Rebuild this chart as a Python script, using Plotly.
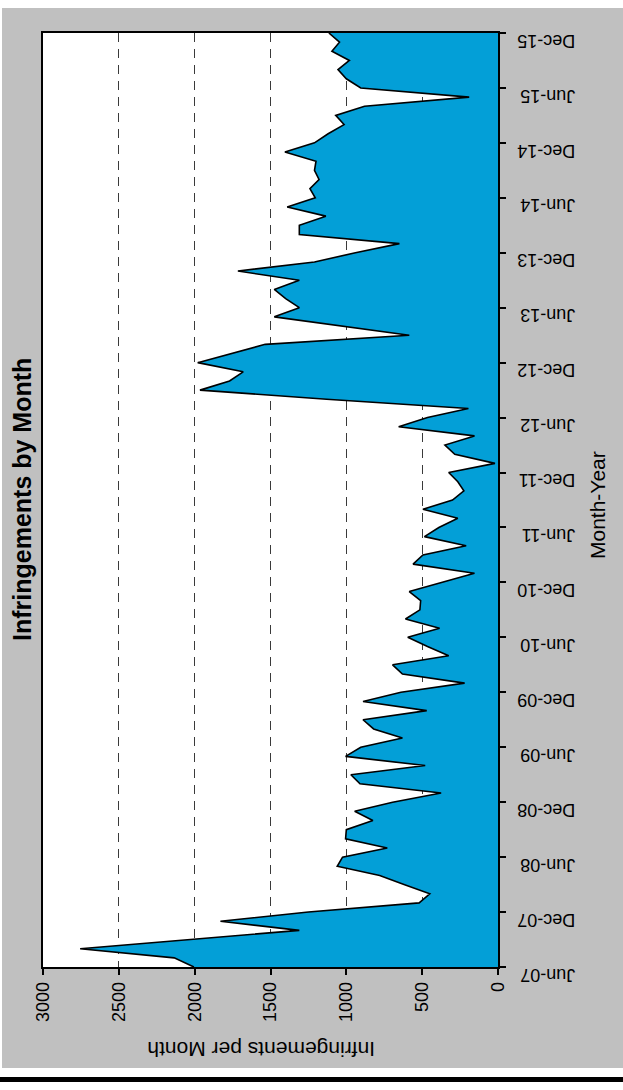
import plotly.graph_objects as go
import pandas as pd

# Categories: monthly from Jun-07 to Dec-15
months = [d.strftime("%b-%y") for d in pd.date_range("2007-06-01", "2015-12-01", freq="MS")]

# Infringements per month
infringements = [
    2005, 2135, 2755, 2050, 1310, 1830, 1250,            # Jun-07 .. Dec-07
    520, 450, 620, 780, 1060, 1025, 730, 1005, 1000, 825, 945, 695,   # 2008
    375, 910, 970, 480, 1005, 905, 630, 820, 890, 470, 890, 640,      # 2009
    220, 630, 695, 325, 465, 595, 385, 610, 515, 510, 585, 375,       # 2010
    155, 560, 495, 210, 485, 390, 265, 495, 300, 225, 265, 325,       # 2011
    20, 285, 350, 155, 655, 465, 195, 1130, 1965, 1770, 1680, 1980,   # 2012
    1760, 1535, 585, 1030, 1475, 1310, 1400, 1475, 1310, 1715, 1210, 940,  # 2013
    650, 1310, 1310, 1135, 1390, 1205, 1240, 1180, 1210, 1200, 1405, 1210, # 2014
    1120, 1015, 1070, 880, 190, 905, 1000, 1055, 980, 1095, 1045, 1115,    # 2015
]

value_ticks = [0, 500, 1000, 1500, 2000, 2500, 3000]
month_ticks = months[::6]

title_text = "<b>Infringements by Month</b>"
value_title = "Infringements per Month"
month_title = "Month-Year"

fig = go.Figure(
    go.Scatter(
        x=infringements,
        y=months,
        mode="lines",
        fill="tozerox",
        fillcolor="#039FD7",
        line=dict(color="black", width=1.6),
        hoverinfo="skip",
        showlegend=False,
    )
)

# plot area in pixels: x 43..498, y 33..967
L, R, T, B = 43, 498, 33, 967
W, H = 623, 1090


def px_x(px):
    return (px - L) / (R - L)


def px_y(py):
    return (B - py) / (B - T)


fig.update_layout(
    width=W,
    height=H,
    margin=dict(l=L, r=W - R, t=T, b=H - B, pad=0),
    paper_bgcolor="#C0C0C0",
    plot_bgcolor="white",
    font=dict(family="Liberation Sans, Arial, sans-serif", color="black"),
    xaxis=dict(
        range=[3000, 0],
        tickmode="array",
        tickvals=value_ticks,
        tickangle=-90,
        ticks="outside",
        ticklen=6,
        tickwidth=1.5,
        tickcolor="black",
        showline=True,
        linecolor="black",
        linewidth=1.5,
        mirror=True,
        showgrid=True,
        gridcolor="#3a3a3a",
        gridwidth=1,
        griddash="9px,7px",
        zeroline=False,
        tickfont=dict(size=18),
        fixedrange=True,
    ),
    yaxis=dict(
        type="category",
        range=[0, len(months) - 1],
        side="right",
        tickmode="array",
        tickvals=month_ticks,
        ticktext=month_ticks,
        tickangle=180,
        ticklabelposition="outside bottom",
        ticklabelstandoff=72,
        ticks="outside",
        ticklen=6,
        tickwidth=1.5,
        tickcolor="black",
        showline=True,
        linecolor="black",
        linewidth=1.5,
        mirror=True,
        showgrid=False,
        zeroline=False,
        tickfont=dict(size=18),
        fixedrange=True,
    ),
    shapes=[
        # white borders around the grey chart area
        dict(type="rect", xref="paper", yref="paper", x0=px_x(-5), x1=px_x(630),
             y0=px_y(8), y1=px_y(-5), fillcolor="white", line=dict(width=0), layer="below"),
        dict(type="rect", xref="paper", yref="paper", x0=px_x(-5), x1=px_x(630),
             y0=px_y(1095), y1=px_y(1068), fillcolor="white", line=dict(width=0), layer="below"),
        dict(type="rect", xref="paper", yref="paper", x0=px_x(-5), x1=px_x(2),
             y0=px_y(1095), y1=px_y(-5), fillcolor="white", line=dict(width=0), layer="below"),
        dict(type="rect", xref="paper", yref="paper", x0=px_x(-5), x1=px_x(630),
             y0=px_y(1082), y1=px_y(1077), fillcolor="black", line=dict(width=0), layer="above"),
    ],
    annotations=[
        dict(text=value_title, xref="paper", yref="paper", x=px_x(261), y=px_y(1050),
             showarrow=False, textangle=180, font=dict(size=21),
             xanchor="center", yanchor="middle"),
        dict(text=month_title, xref="paper", yref="paper", x=px_x(597), y=px_y(505),
             showarrow=False, textangle=-90, font=dict(size=21),
             xanchor="center", yanchor="middle"),
        dict(text=title_text, xref="paper", yref="paper", x=px_x(22), y=px_y(500),
             showarrow=False, textangle=-90, font=dict(size=25),
             xanchor="center", yanchor="middle"),
    ],
)

fig.write_html(
    "out.html",
    config={"displayModeBar": False},
    post_script="document.body.style.margin='0px';document.body.style.overflow='hidden';",
)
